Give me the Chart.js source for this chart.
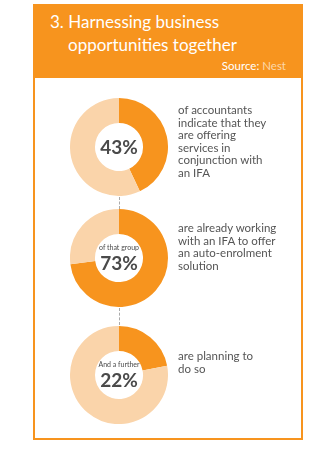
<!DOCTYPE html>
<html>
<head>
<meta charset="utf-8">
<script src="https://cdn.jsdelivr.net/npm/chart.js@4"></script>
<style>
  body { margin:0; width:325px; height:450px; background:#fff; font-family:Lato, "Open Sans", sans-serif; position:relative; overflow:hidden; }
  .head { position:absolute; left:33px; top:4px; width:270px; height:74px; background:#F7941E; color:#fff; }
  .title { position:absolute; left:17px; top:6px; font-size:17px; line-height:23px; }
  .title .ind { padding-left:18px; }
  .src { position:absolute; right:17px; top:55px; font-size:11.5px; }
  .src span { color:#FCD7AA; }
  .box { position:absolute; left:33px; top:78px; width:266px; height:360px; border:2px solid #F7941E; border-top:none; }
  .donut { position:absolute; left:70px; width:98px; height:98px; }
  .mid { position:absolute; left:70px; width:98px; text-align:center; color:#4a4a4a; pointer-events:none; }
  .mid .lead { font-size:7px; line-height:9px; margin-bottom:1px; }
  .mid .pct { font-size:19px; font-weight:bold; line-height:20px; }
  .note { position:absolute; left:178px; font-size:11.5px; line-height:12.5px; color:#555; }
  .dash { position:absolute; left:119px; width:0; border-left:1px dashed #aaa; }
</style>
</head>
<body>
<div class="head">
  <div class="title">3. Harnessing business<br><span class="ind">opportunities together</span></div>
  <div class="src">Source: <span>Nest</span></div>
</div>
<div class="box"></div>
<div class="dash" style="top:197px;height:12px"></div>
<div class="dash" style="top:308px;height:17px"></div>
<div id="wrap"></div>
<script>
const shares = [43, 73, 22];
const leads = ['', 'of that group', 'And a further'];
const notes = [
  ['of accountants', 'indicate that they', 'are offering', 'services in', 'conjunction with', 'an IFA'],
  ['are already working', 'with an IFA to offer', 'an auto-enrolment', 'solution'],
  ['are planning to', 'do so']
];
const tops = [98, 209, 326];
const noteTops = [104, 222, 350];

const orange = '#F7941E';
const light = '#FAD4AA';
const wrap = document.getElementById('wrap');

shares.forEach((v, i) => {
  const cv = document.createElement('canvas');
  cv.className = 'donut';
  cv.width = 98; cv.height = 98;
  cv.style.top = tops[i] + 'px';
  wrap.appendChild(cv);

  new Chart(cv.getContext('2d'), {
    type: 'doughnut',
    data: {
      labels: ['yes', 'rest'],
      datasets: [{ data: [v, 100 - v], backgroundColor: [orange, light], borderWidth: 0 }]
    },
    options: {
      responsive: false, animation: false, events: [],
      cutout: '49%',
      layout: { padding: 0 },
      plugins: { legend: { display: false }, tooltip: { enabled: false } }
    }
  });

  const mid = document.createElement('div');
  mid.className = 'mid';
  let html = '';
  if (leads[i]) html += '<div class="lead">' + leads[i] + '</div>';
  html += '<div class="pct">' + v + '%</div>';
  mid.innerHTML = html;
  mid.style.top = (tops[i] + 49 - (leads[i] ? 15 : 10)) + 'px';
  wrap.appendChild(mid);

  const note = document.createElement('div');
  note.className = 'note';
  note.innerHTML = notes[i].join('<br>');
  note.style.top = noteTops[i] + 'px';
  wrap.appendChild(note);
});
</script>
</body>
</html>
